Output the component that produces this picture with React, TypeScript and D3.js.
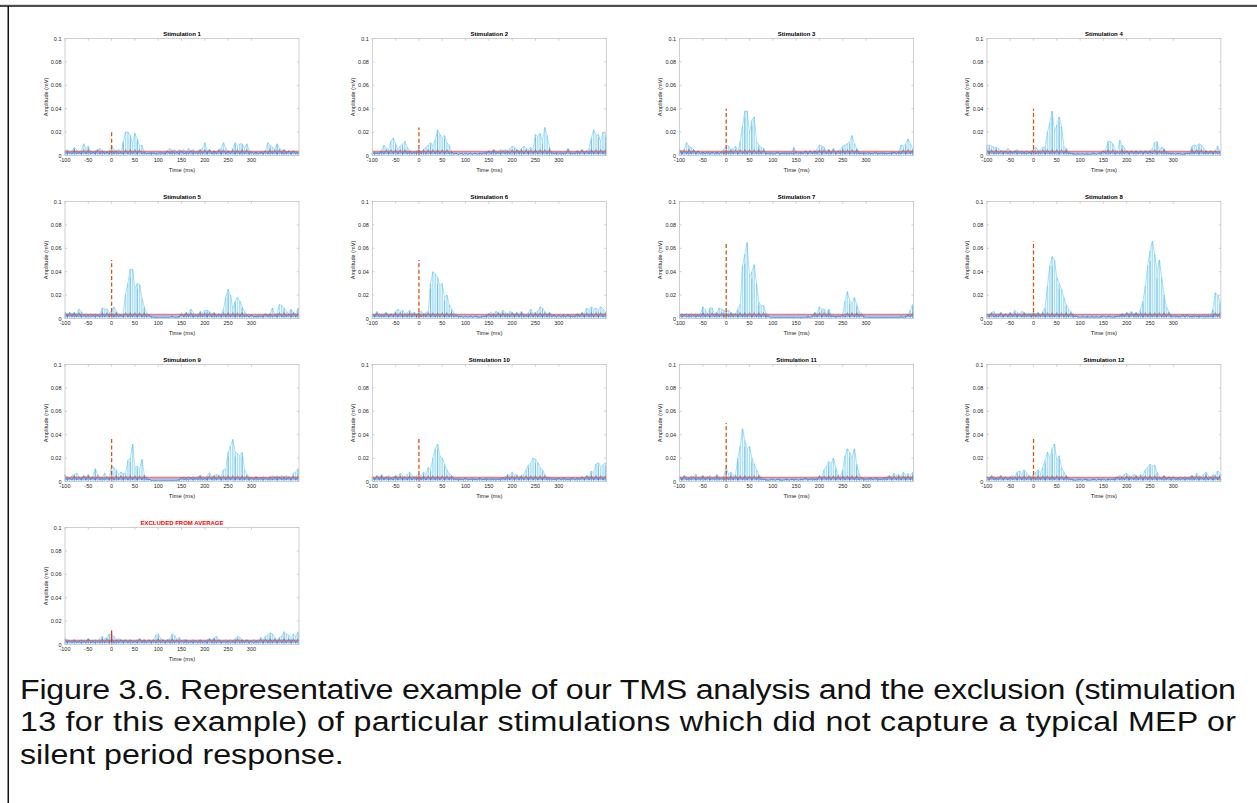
import React from "react";
import * as d3 from "d3";

// Rectified EMG amplitude per stimulation, sampled every 5 ms from -100 to 400 ms (values in µV).
const STIM_1 = [
  4, 5, 3, 4, 7, 5, 3, 4, 10, 6,
  8, 4, 3, 4, 5, 6, 4, 3, 3, 4,
  8, 5, 4, 5, 3, 12, 20, 20, 17, 10,
  19, 14, 8, 9, 3, 2, 2, 3, 2, 2,
  2, 3, 2, 3, 4, 6, 4, 5, 3, 5,
  4, 5, 3, 6, 4, 5, 3, 4, 5, 6,
  11, 4, 5, 3, 4, 3, 5, 6, 11, 6,
  4, 3, 6, 11, 8, 10, 10, 6, 10, 4,
  3, 2, 3, 2, 3, 3, 4, 11, 9, 7,
  5, 10, 6, 4, 5, 3, 4, 3, 4, 3, 3,
];
const STIM_2 = [
  2, 3, 2, 3, 4, 9, 6, 5, 12, 15,
  10, 5, 8, 10, 12, 7, 4, 3, 3, 4,
  5, 3, 5, 7, 9, 11, 8, 13, 22, 18,
  15, 17, 11, 9, 3, 2, 2, 1, 2, 1,
  2, 1, 2, 1, 2, 1, 2, 2, 2, 3,
  4, 3, 5, 4, 3, 5, 4, 5, 4, 6,
  8, 7, 5, 4, 6, 8, 6, 5, 7, 5,
  18, 16, 19, 12, 24, 17, 7, 3, 2, 3,
  2, 3, 2, 3, 6, 3, 2, 3, 4, 3,
  5, 3, 4, 6, 15, 22, 17, 18, 11, 20, 19,
];
const STIM_3 = [
  5, 4, 5, 11, 8, 7, 5, 3, 4, 2,
  3, 2, 3, 2, 3, 2, 3, 2, 3, 5,
  8, 8, 5, 6, 8, 3, 12, 25, 38, 38,
  18, 30, 33, 12, 9, 7, 6, 3, 2, 3,
  2, 2, 3, 2, 2, 3, 2, 3, 2, 7,
  3, 2, 3, 2, 4, 3, 4, 3, 4, 5,
  9, 8, 7, 3, 5, 3, 6, 3, 4, 5,
  8, 9, 10, 12, 17, 10, 6, 3, 2, 3,
  2, 3, 2, 2, 3, 2, 2, 3, 2, 2,
  2, 3, 3, 2, 3, 9, 8, 10, 14, 10, 6,
];
const STIM_4 = [
  9, 9, 8, 7, 7, 6, 4, 4, 4, 6,
  4, 3, 4, 5, 3, 4, 3, 4, 3, 4,
  5, 7, 4, 5, 7, 7, 20, 28, 38, 20,
  26, 33, 25, 8, 6, 3, 2, 2, 1, 2,
  1, 2, 1, 2, 1, 2, 2, 1, 2, 3,
  4, 5, 12, 12, 10, 5, 3, 13, 9, 6,
  4, 3, 4, 3, 4, 3, 4, 3, 4, 3,
  4, 6, 11, 12, 4, 7, 6, 3, 2, 2,
  2, 1, 2, 2, 1, 2, 2, 2, 8, 9,
  8, 10, 9, 6, 4, 3, 4, 3, 4, 8, 3,
];
const STIM_5 = [
  5, 4, 5, 4, 5, 4, 8, 6, 3, 4,
  3, 4, 3, 4, 3, 4, 9, 8, 8, 5,
  6, 10, 6, 4, 3, 4, 21, 30, 42, 42,
  25, 30, 29, 17, 10, 5, 3, 2, 1, 1,
  1, 1, 1, 1, 1, 1, 2, 1, 1, 2,
  4, 3, 5, 4, 8, 5, 3, 4, 6, 5,
  7, 7, 6, 4, 5, 3, 4, 3, 8, 18,
  25, 20, 8, 15, 18, 15, 10, 6, 3, 2,
  3, 2, 2, 3, 2, 3, 4, 3, 4, 9,
  3, 5, 12, 11, 9, 6, 4, 8, 5, 4, 9,
];
const STIM_6 = [
  4, 3, 6, 4, 3, 4, 5, 3, 4, 3,
  6, 8, 6, 7, 4, 5, 7, 4, 5, 4,
  5, 6, 4, 5, 6, 30, 40, 38, 35, 28,
  30, 18, 20, 12, 8, 5, 3, 2, 2, 1,
  2, 1, 2, 1, 2, 2, 1, 2, 2, 3,
  4, 5, 4, 6, 5, 4, 7, 5, 4, 6,
  5, 4, 5, 3, 6, 4, 3, 5, 8, 4,
  5, 6, 10, 9, 6, 4, 5, 3, 3, 2,
  3, 2, 3, 2, 3, 3, 2, 3, 4, 3,
  5, 4, 9, 7, 10, 8, 9, 7, 10, 8, 6,
];
const STIM_7 = [
  3, 4, 3, 4, 3, 4, 3, 4, 3, 4,
  10, 7, 4, 9, 9, 4, 5, 9, 8, 7,
  6, 7, 5, 4, 4, 8, 12, 45, 55, 65,
  35, 40, 46, 30, 14, 11, 11, 5, 2, 1,
  1, 1, 1, 1, 1, 1, 1, 1, 1, 1,
  1, 1, 1, 1, 1, 2, 1, 3, 5, 4,
  10, 8, 8, 3, 8, 3, 2, 2, 2, 2,
  3, 15, 23, 15, 13, 18, 12, 6, 4, 2,
  1, 1, 1, 1, 1, 1, 1, 1, 1, 1,
  1, 1, 1, 1, 1, 2, 1, 2, 3, 7, 12,
];
const STIM_8 = [
  4, 3, 5, 6, 3, 4, 5, 3, 4, 3,
  5, 4, 7, 5, 4, 6, 5, 4, 4, 4,
  5, 4, 5, 3, 6, 9, 28, 45, 53, 50,
  35, 30, 25, 18, 12, 8, 6, 4, 2, 2,
  1, 2, 1, 2, 1, 2, 1, 2, 1, 2,
  2, 1, 2, 2, 1, 2, 2, 3, 4, 3,
  5, 4, 6, 4, 5, 4, 8, 15, 28, 45,
  58, 66, 55, 40, 50, 35, 20, 10, 6, 3,
  2, 3, 2, 2, 3, 2, 3, 2, 2, 3,
  2, 3, 2, 3, 2, 3, 2, 8, 22, 20, 15,
];
const STIM_9 = [
  6, 4, 3, 5, 6, 7, 4, 3, 5, 4,
  6, 3, 4, 11, 6, 4, 3, 7, 4, 3,
  13, 12, 10, 6, 8, 7, 7, 18, 20, 32,
  12, 13, 10, 19, 6, 4, 2, 1, 1, 1,
  1, 1, 1, 1, 1, 1, 1, 1, 1, 2,
  3, 4, 3, 4, 3, 4, 3, 4, 5, 4,
  3, 5, 7, 4, 5, 6, 5, 4, 10, 11,
  25, 30, 36, 25, 24, 22, 25, 10, 6, 4,
  3, 3, 4, 3, 3, 4, 3, 3, 4, 5,
  4, 5, 4, 5, 4, 5, 4, 3, 7, 8, 11,
];
const STIM_10 = [
  4, 3, 5, 4, 6, 3, 4, 5, 3, 4,
  5, 4, 7, 5, 4, 6, 8, 5, 4, 5,
  6, 5, 8, 6, 12, 10, 20, 28, 32, 22,
  20, 15, 10, 7, 5, 3, 2, 3, 2, 2,
  3, 2, 2, 3, 2, 2, 3, 2, 2, 3,
  2, 3, 2, 3, 2, 3, 3, 4, 6, 5,
  8, 5, 6, 4, 5, 6, 10, 14, 16, 20,
  19, 16, 12, 10, 6, 4, 3, 3, 2, 3,
  3, 2, 3, 3, 2, 3, 3, 2, 3, 3,
  4, 3, 5, 4, 9, 7, 15, 16, 12, 14, 16,
];
const STIM_11 = [
  4, 3, 5, 4, 3, 5, 4, 6, 3, 4,
  5, 3, 4, 5, 3, 4, 6, 4, 3, 5,
  12, 6, 8, 5, 6, 20, 30, 45, 35, 28,
  30, 20, 15, 10, 6, 4, 2, 2, 1, 2,
  2, 1, 2, 2, 1, 2, 2, 1, 2, 2,
  2, 1, 2, 2, 3, 2, 2, 3, 2, 3,
  5, 4, 10, 13, 17, 15, 20, 12, 6, 4,
  10, 22, 28, 25, 20, 28, 15, 7, 3, 3,
  2, 3, 3, 2, 3, 3, 2, 3, 3, 4,
  5, 4, 7, 5, 6, 4, 8, 5, 7, 5, 8,
];
const STIM_12 = [
  4, 3, 5, 4, 3, 4, 5, 3, 4, 3,
  4, 5, 4, 8, 9, 6, 10, 7, 5, 4,
  6, 8, 10, 7, 12, 18, 25, 20, 28, 32,
  18, 22, 12, 8, 5, 3, 2, 2, 1, 2,
  2, 1, 2, 2, 1, 2, 2, 1, 2, 2,
  2, 1, 2, 2, 2, 3, 4, 5, 4, 6,
  7, 5, 4, 6, 5, 4, 6, 5, 10, 12,
  15, 13, 14, 8, 4, 3, 5, 3, 4, 3,
  4, 3, 3, 4, 3, 4, 3, 4, 5, 4,
  7, 5, 4, 6, 8, 5, 4, 6, 5, 9, 7,
];
const STIM_13 = [
  5, 4, 3, 3, 4, 3, 3, 4, 3, 3,
  5, 3, 3, 4, 3, 5, 7, 5, 6, 9,
  8, 7, 4, 5, 4, 3, 4, 3, 4, 3,
  3, 4, 5, 3, 4, 3, 4, 3, 4, 8,
  9, 5, 4, 3, 4, 5, 9, 8, 4, 6,
  3, 4, 4, 3, 3, 4, 3, 3, 4, 3,
  3, 4, 5, 4, 6, 7, 4, 3, 3, 4,
  3, 4, 3, 5, 7, 6, 4, 3, 4, 3,
  3, 4, 3, 4, 6, 4, 7, 8, 10, 9,
  6, 4, 6, 7, 11, 9, 8, 5, 9, 7, 11,
];

const TRACES = [
  STIM_1, STIM_2, STIM_3, STIM_4, STIM_5, STIM_6, STIM_7,
  STIM_8, STIM_9, STIM_10, STIM_11, STIM_12, STIM_13,
];
const TITLES = [
  "Stimulation 1", "Stimulation 2", "Stimulation 3", "Stimulation 4",
  "Stimulation 5", "Stimulation 6", "Stimulation 7", "Stimulation 8",
  "Stimulation 9", "Stimulation 10", "Stimulation 11", "Stimulation 12",
  "EXCLUDED FROM AVERAGE",
];
const EXCLUDED = [false, false, false, false, false, false, false, false, false, false, false, false, true];
// Height (µV) of the stimulus marker drawn at t = 0
const PULSE_MARK = [20, 24, 40, 40, 50, 50, 65, 66, 38, 38, 50, 38, 12];
// Baseline mean and threshold levels (µV)
const MEAN_LEVEL = [2.2, 2.2, 2.2, 2.2, 2.2, 2.2, 2.2, 2.2, 2.2, 2.2, 2.2, 2.2, 2.2];
const THRESHOLD_LEVEL = [3.6, 3.6, 3.6, 3.6, 3.6, 3.6, 3.6, 3.6, 3.6, 3.6, 3.6, 3.6, 3.6];

const SAMPLE_START_MS = -100;
const SAMPLE_STEP_MS = 5;
const X_TICKS = [-100, -50, 0, 50, 100, 150, 200, 250, 300];
const Y_TICKS = [0, 20, 40, 60, 80, 100];
const Y_TICK_LABELS = ["0", "0.02", "0.04", "0.06", "0.08", "0.1"];

const CAPTION_LINES = [
  "Figure 3.6. Representative example of our TMS analysis and the exclusion (stimulation",
  "13 for this example) of particular stimulations which did not capture a typical MEP or",
  "silent period response.",
];
// Justified lines are fitted to the full text column; the last line is left ragged.
const CAPTION_JUSTIFY = [true, true, false];

const WIDTH = 1257;
const HEIGHT = 803;
const AX_W = 234;
const AX_H = 117;
const COL_STEP = 307.3;
const ROW_STEP = 163;
const FIRST_LEFT = 65;
const FIRST_TOP = 38.5;
const FONT = "'Liberation Sans', Arial, Helvetica, sans-serif";
const CAPTION_SIZE = 28;
const CAPTION_STRETCH = 1.15;
const CAPTION_WIDTH = 1216;

const LIGHT = "#4DBEEE";
const DARK = "#0072BD";
const MARK = "#D95319";

function Panel({ idx }: { idx: number }) {
  const col = idx % 4;
  const row = Math.floor(idx / 4);
  const left = FIRST_LEFT + col * COL_STEP;
  const top = FIRST_TOP + row * ROW_STEP;
  const values = TRACES[idx];

  const x = d3.scaleLinear().domain([-100, 402]).range([left, left + AX_W]);
  const y = d3.scaleLinear().domain([0, 100]).range([top + AX_H, top]);
  const t = (i: number) => SAMPLE_START_MS + i * SAMPLE_STEP_MS;

  const stems = values
    .map((v, i) => `M${x(t(i)).toFixed(2)},${y(0.4).toFixed(2)}V${y(v).toFixed(2)}`)
    .join("");
  const envelope = d3
    .line<number>()
    .x((_, i) => x(t(i)))
    .y((v) => y(v))(values) as string;
  const raw = d3
    .line<number>()
    .x((_, i) => x(t(i)))
    .y((v, i) => y(i % 2 === 0 ? Math.min(v, 5) : Math.min(v, 1.2)))(values) as string;
  const darkStems = values
    .map((v, i) =>
      i % 3 === 1 ? `M${x(t(i)).toFixed(2)},${y(0).toFixed(2)}V${y(v * 0.85).toFixed(2)}` : ""
    )
    .join("");

  const grey = "#262626";
  const axisCol = "#c4c4c4";
  const tickLen = 2.2;

  return (
    <g>
      <rect x={left} y={top} width={AX_W} height={AX_H} fill="#fff" />
      <path d={stems} stroke={LIGHT} strokeWidth={1.6} strokeOpacity={0.45} fill="none" />
      <path d={envelope} stroke={LIGHT} strokeWidth={0.6} strokeOpacity={0.8} fill="none" />
      <path d={darkStems} stroke={DARK} strokeWidth={0.6} strokeOpacity={0.5} fill="none" />
      <path d={raw} stroke={DARK} strokeWidth={0.6} strokeOpacity={0.8} fill="none" />
      <line
        x1={x(-100)} x2={x(402)} y1={y(MEAN_LEVEL[idx])} y2={y(MEAN_LEVEL[idx])}
        stroke="#5a4fd6" strokeWidth={0.8}
      />
      <line
        x1={x(-100)} x2={x(402)} y1={y(THRESHOLD_LEVEL[idx])} y2={y(THRESHOLD_LEVEL[idx])}
        stroke="#e8463e" strokeWidth={0.9}
      />
      <line
        x1={x(0)} x2={x(0)} y1={y(0)} y2={y(PULSE_MARK[idx])}
        stroke={EXCLUDED[idx] ? "#e0301e" : MARK} strokeWidth={1.3}
        strokeDasharray={EXCLUDED[idx] ? undefined : "4 2.4"}
      />
      {/* axes box */}
      <rect x={left} y={top} width={AX_W} height={AX_H} fill="none" stroke={axisCol} strokeWidth={0.8} />
      {X_TICKS.map((v) => (
        <g key={`x${v}`}>
          <line x1={x(v)} x2={x(v)} y1={top + AX_H} y2={top + AX_H - tickLen} stroke={axisCol} strokeWidth={0.8} />
          <line x1={x(v)} x2={x(v)} y1={top} y2={top + tickLen} stroke={axisCol} strokeWidth={0.8} />
          <text x={x(v)} y={top + AX_H + 6} fontSize={5.5} textAnchor="middle" fill={grey} fontFamily={FONT}>
            {v}
          </text>
        </g>
      ))}
      {Y_TICKS.map((v, i) => (
        <g key={`y${v}`}>
          <line x1={left} x2={left + tickLen} y1={y(v)} y2={y(v)} stroke={axisCol} strokeWidth={0.8} />
          <line x1={left + AX_W} x2={left + AX_W - tickLen} y1={y(v)} y2={y(v)} stroke={axisCol} strokeWidth={0.8} />
          <text x={left - 3.5} y={y(v) + 2} fontSize={5.5} textAnchor="end" fill={grey} fontFamily={FONT}>
            {Y_TICK_LABELS[i]}
          </text>
        </g>
      ))}
      <text
        x={left + AX_W / 2} y={top + AX_H + 16.5} fontSize={5.9} textAnchor="middle"
        fill={grey} fontFamily={FONT}
      >
        Time (ms)
      </text>
      <text
        transform={`translate(${left - 17.5},${top + AX_H / 2}) rotate(-90)`}
        fontSize={5.6} textAnchor="middle" fill={grey} fontFamily={FONT}
      >
        Amplitude (mV)
      </text>
      <text
        x={left + AX_W / 2} y={top - 2.6} fontSize={6} fontWeight="bold" textAnchor="middle"
        fill={EXCLUDED[idx] ? "#ff0000" : "#000"} fontFamily={FONT}
      >
        {TITLES[idx]}
      </text>
    </g>
  );
}

export default function App() {
  return (
    <svg
      width={WIDTH}
      height={HEIGHT}
      viewBox={`0 0 ${WIDTH} ${HEIGHT}`}
      style={{ position: "absolute", left: 0, top: 0, background: "#fff" }}
    >
      <rect x={0} y={0} width={WIDTH} height={HEIGHT} fill="#fff" />
      <rect x={0} y={4.8} width={WIDTH} height={2.2} fill="#4d4d4d" />
      <rect x={7.5} y={6} width={1.5} height={HEIGHT - 6} fill="#111" />
      {TRACES.map((_, i) => (
        <Panel key={i} idx={i} />
      ))}
      <g transform={`translate(20,0) scale(${CAPTION_STRETCH},1)`}>
        {CAPTION_LINES.map((line, i) => (
          <text
            key={i}
            x={0}
            y={699 + i * 32.3}
            fontSize={CAPTION_SIZE}
            fill="#111"
            fontFamily={FONT}
            textLength={CAPTION_JUSTIFY[i] ? CAPTION_WIDTH / CAPTION_STRETCH : undefined}
            lengthAdjust={CAPTION_JUSTIFY[i] ? "spacing" : undefined}
          >
            {line}
          </text>
        ))}
      </g>
    </svg>
  );
}
